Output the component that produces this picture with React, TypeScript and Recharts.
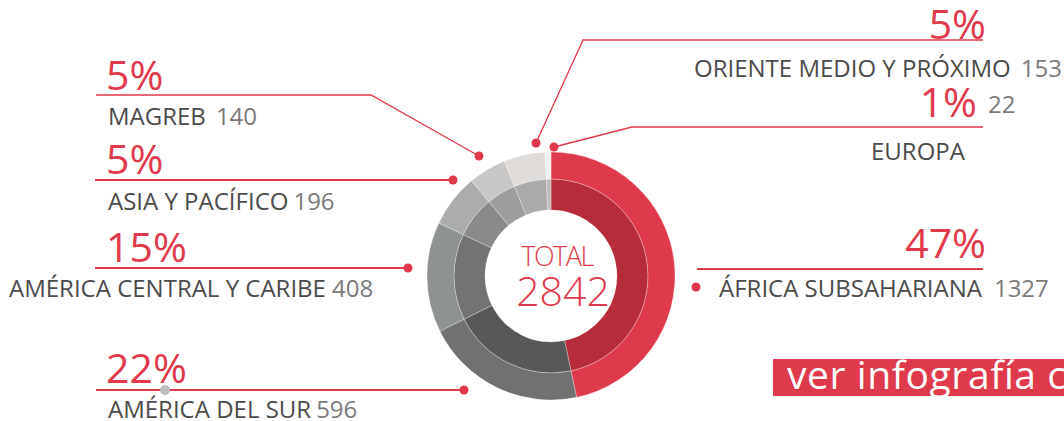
import { PieChart, Pie, Cell } from 'recharts';

const regions = [
  'ÁFRICA SUBSAHARIANA',
  'AMÉRICA DEL SUR',
  'AMÉRICA CENTRAL Y CARIBE',
  'ASIA Y PACÍFICO',
  'MAGREB',
  'ORIENTE MEDIO Y PRÓXIMO',
  'EUROPA',
];
const counts = [1327, 596, 408, 196, 140, 153, 22];
const percents = ['47%', '22%', '15%', '5%', '5%', '5%', '1%'];

const outerColors = ['#df3a4b', '#717173', '#8e9292', '#abadab', '#c8c7c5', '#dedbd8', '#f1f1f1'];
const innerColors = ['#b62c3b', '#58585a', '#747273', '#8a8a8a', '#9d9d9d', '#aaaaaa', '#bdbdbd'];

const RED = '#e0394b';
const DARK = '#4b4b4b';
const GREY = '#7a7a7a';
const FONT = '"Open Sans", sans-serif';

const data = regions.map((name, i) => ({ name, value: counts[i] }));
const total = counts.reduce((a, b) => a + b, 0);

// where each annotation sits on the page
type Place = {
  dot: [number, number];
  path: [number, number][];
  lineW: number;
  pct: [number, number];
  pctAnchor: 'start' | 'end';
  name: [number, number];
  gap: number;
  countAt?: [number, number];
};

const places: Place[] = [
  { dot: [696, 287], path: [[697, 269], [983, 269]], lineW: 2.2, pct: [986, 258], pctAnchor: 'end', name: [719, 297], gap: 12 },
  { dot: [464, 390], path: [[96, 390], [464, 390]], lineW: 2, pct: [106, 383], pctAnchor: 'start', name: [108, 418], gap: 5 },
  { dot: [408, 268], path: [[95, 268], [408, 268]], lineW: 2, pct: [106, 262], pctAnchor: 'start', name: [9, 297], gap: 6 },
  { dot: [453, 180], path: [[95, 180], [453, 180]], lineW: 2, pct: [106, 174], pctAnchor: 'start', name: [108, 210], gap: 5 },
  { dot: [479, 156], path: [[96, 95], [371, 95], [479, 156]], lineW: 1.3, pct: [106, 90], pctAnchor: 'start', name: [108, 125], gap: 10 },
  { dot: [536, 143], path: [[536, 143], [583, 40], [983, 40]], lineW: 1.3, pct: [986, 39], pctAnchor: 'end', name: [694, 77], gap: 10 },
  { dot: [554, 147], path: [[554, 147], [632, 127], [983, 127]], lineW: 1.3, pct: [977, 117], pctAnchor: 'end', name: [871, 160], gap: 0, countAt: [988, 113] },
];

function Annotation({ index }: { index: number }) {
  const p = places[index];
  if (!p) return null;
  const pts = p.path.map((q) => q.join(',')).join(' ');
  return (
    <g>
      <polyline points={pts} fill="none" stroke={RED} strokeWidth={p.lineW} />
      <circle cx={p.dot[0]} cy={p.dot[1]} r={4.5} fill={RED} />
      <text x={p.pct[0]} y={p.pct[1]} textAnchor={p.pctAnchor} fill={RED} fontSize={41} fontFamily={FONT}>
        {percents[index]}
      </text>
      <text x={p.name[0]} y={p.name[1]} fill={DARK} fontSize={24} fontFamily={FONT}>
        {regions[index]}
        {!p.countAt && (
          <tspan dx={p.gap} fill={GREY}>
            {counts[index]}
          </tspan>
        )}
      </text>
      {p.countAt && (
        <text x={p.countAt[0]} y={p.countAt[1]} fill={GREY} fontSize={24} fontFamily={FONT}>
          {counts[index]}
        </text>
      )}
      {index === 1 && <circle cx={165} cy={390} r={5} fill="#bdbdbd" />}
    </g>
  );
}

export default function App() {
  const cx = 551;
  const cy = 276;
  return (
    <div style={{ position: 'absolute', left: 0, top: 0, width: 1064, height: 421, background: '#fff' }}>
      <PieChart width={1064} height={421} margin={{ top: 0, right: 0, bottom: 0, left: 0 }}>
        <rect x={773} y={359} width={291} height={37} fill="#de3a4b" />
        <text x={787} y={389} fill="#fff" fontSize={39} letterSpacing={0.6} fontFamily={FONT}>
          ver infografía completa
        </text>
        <Pie
          data={data}
          dataKey="value"
          cx={cx}
          cy={cy}
          innerRadius={66}
          outerRadius={97}
          startAngle={90}
          endAngle={-270}
          stroke="rgba(255,255,255,0.35)"
          strokeWidth={0.8}
          isAnimationActive={false}
        >
          {data.map((d, i) => (
            <Cell key={d.name} fill={innerColors[i]} />
          ))}
        </Pie>
        <Pie
          data={data}
          dataKey="value"
          cx={cx}
          cy={cy}
          innerRadius={97}
          outerRadius={124}
          startAngle={90}
          endAngle={-270}
          stroke="rgba(255,255,255,0.35)"
          strokeWidth={0.8}
          isAnimationActive={false}
          labelLine={false}
          label={(props: any) => <Annotation index={props.index} />}
        >
          {data.map((d, i) => (
            <Cell key={d.name} fill={outerColors[i]} />
          ))}
        </Pie>
        <text x={cx + 6} y={266} textAnchor="middle" fill={RED} fontSize={27} fontFamily={FONT} fontWeight={300} letterSpacing={-1.5}>
          TOTAL
        </text>
        <text x={cx + 12} y={306} textAnchor="middle" fill={RED} fontSize={41} fontFamily={FONT} fontWeight={300}>
          {total}
        </text>
      </PieChart>
    </div>
  );
}
